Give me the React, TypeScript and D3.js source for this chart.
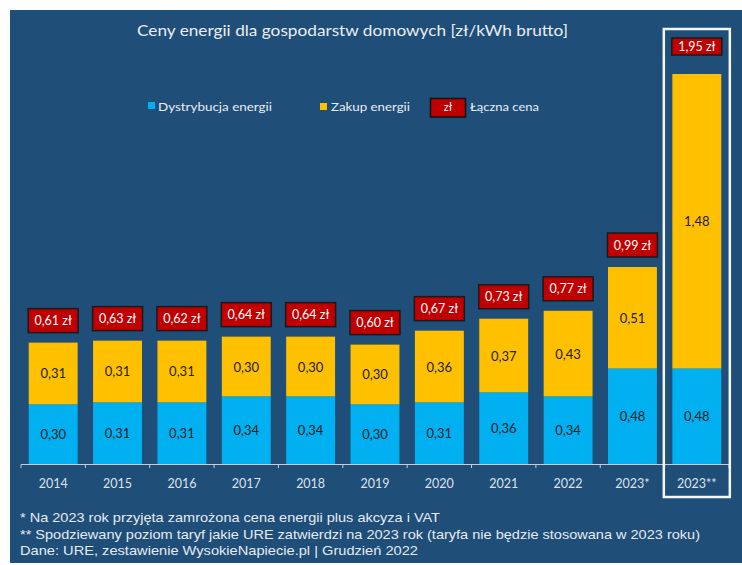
import React from 'react';
import * as d3 from 'd3';

const categories = ['2014', '2015', '2016', '2017', '2018', '2019', '2020', '2021', '2022', '2023*', '2023**'];
const distribution = [0.30, 0.31, 0.31, 0.34, 0.34, 0.30, 0.31, 0.36, 0.34, 0.48, 0.48];
const purchase = [0.31, 0.31, 0.31, 0.30, 0.30, 0.30, 0.36, 0.37, 0.43, 0.51, 1.48];
const totals = [0.61, 0.63, 0.62, 0.64, 0.64, 0.60, 0.67, 0.73, 0.77, 0.99, 1.95];
const seriesNames = ['Dystrybucja energii', 'Zakup energii', 'Łączna cena'];
const titleText = 'Ceny energii dla gospodarstw domowych [zł/kWh brutto]';
const footnotes = [
  '* Na 2023 rok przyjęta zamrożona cena energii plus akcyza i VAT',
  '** Spodziewany poziom taryf jakie URE zatwierdzi na 2023 rok (taryfa nie będzie stosowana w 2023 roku)',
  'Dane: URE, zestawienie WysokieNapiecie.pl  | Grudzień 2022',
];
const footnoteWidths = [420, 680, 398];

const W = 742;
const H = 565;
const BG = '#1F4E79';
const BLUE = '#00B0F0';
const YELLOW = '#FFC000';
const RED = '#C00000';
const FONT = 'Lato, "Open Sans", sans-serif';
const FOOT_FONT = '"Liberation Sans", Arial, sans-serif';

const fmt = (v: number) => v.toFixed(2).replace('.', ',');

export default function App() {
  const rows = categories.map((c, i) => ({ cat: c, dist: distribution[i], buy: purchase[i], total: totals[i] }));
  const stack = d3.stack<any>().keys(['dist', 'buy'])(rows);

  const x = d3.scaleBand<string>().domain(categories).range([21, 729]).paddingInner(0.24).paddingOuter(0.12);
  const y = d3.scaleLinear().domain([0, 1.95]).range([464, 76]);
  const bw = x.bandwidth();
  const step = x.step();
  const x0 = x.range()[0];
  const colors = [BLUE, YELLOW];
  const last = categories.length - 1;
  const hlCx = (x(categories[last]) as number) + bw / 2;

  return (
    <svg width={W} height={H} style={{ position: 'absolute', left: 0, top: 0 }}>
      <rect x={10} y={10} width={W - 10} height={H - 12} fill={BG} />
      <text x={137} y={36} fill="#e9edf3" fontFamily={FONT} fontSize={16} textLength={431} lengthAdjust="spacingAndGlyphs">
        {titleText}
      </text>

      {/* legend */}
      <rect x={148} y={102} width={7} height={7} fill={BLUE} />
      <text x={158} y={110.5} fill="#e9edf3" fontFamily={FONT} fontSize={12} textLength={114} lengthAdjust="spacingAndGlyphs">{seriesNames[0]}</text>
      <rect x={320} y={103} width={7} height={7} fill={YELLOW} />
      <text x={331} y={110.5} fill="#e9edf3" fontFamily={FONT} fontSize={12} textLength={79} lengthAdjust="spacingAndGlyphs">{seriesNames[1]}</text>
      <rect x={430.5} y={98.5} width={35} height={18.5} fill={RED} stroke="#111" strokeWidth={1.5} />
      <text x={448} y={111} fill="#fff" fontFamily={FONT} fontSize={11} textAnchor="middle">zł</text>
      <text x={470} y={110.5} fill="#e9edf3" fontFamily={FONT} fontSize={12} textLength={69} lengthAdjust="spacingAndGlyphs">{seriesNames[2]}</text>

      {/* bars */}
      {stack.map((s, si) => (
        <g key={s.key}>
          {s.map((d, i) => {
            const bx = x(categories[i]) as number;
            const top = y(d[1]);
            const bot = y(d[0]);
            const v = si === 0 ? distribution[i] : purchase[i];
            return (
              <g key={i}>
                <rect x={bx} y={top} width={bw} height={bot - top} fill={colors[si]} />
                <text x={bx + bw / 2} y={(top + bot) / 2 + 5} textAnchor="middle" fill="#1c1c1c" fontFamily={FONT} fontSize={13}>
                  {fmt(v)}
                </text>
              </g>
            );
          })}
        </g>
      ))}

      {/* total labels */}
      {rows.map((r, i) => {
        const topVal = stack[1][i][1];
        const cx = (x(r.cat) as number) + bw / 2;
        const isHl = i === last;
        const h = isHl ? 17 : 24;
        const gap = isHl ? 19 : 10;
        const bottom = y(topVal) - gap;
        const w = 50;
        return (
          <g key={'t' + i}>
            <rect x={cx - w / 2} y={bottom - h} width={w} height={h} fill={RED} stroke="#1a1a1a" strokeWidth={1.5} />
            <text x={cx} y={bottom - h / 2 + 4.5} textAnchor="middle" fill="#fff" fontFamily={FONT} fontSize={12.5}>
              {fmt(r.total) + ' zł'}
            </text>
          </g>
        );
      })}

      {/* axis */}
      <line x1={x0} x2={x0 + step * categories.length} y1={464.5} y2={464.5} stroke="#c9ced6" strokeWidth={1.2} />
      {d3.range(categories.length + 1).map((i) => (
        <line key={'k' + i} x1={x0 + i * step} x2={x0 + i * step} y1={464.5} y2={468} stroke="#c9ced6" strokeWidth={1} />
      ))}
      {categories.map((c) => (
        <text key={'l' + c} x={(x(c) as number) + bw / 2} y={488} textAnchor="middle" fill="#dde2ea" fontFamily={FONT} fontSize={12.5}>
          {c}
        </text>
      ))}

      {/* highlight box */}
      <rect x={hlCx - 33} y={29} width={66} height={468} fill="none" stroke="#f4f6f9" strokeWidth={2.5} />

      {/* footnotes */}
      {footnotes.map((f, i) => (
        <text key={'f' + i} x={20} y={522 + i * 16.5} fill="#e6ebf2" fontFamily={FOOT_FONT} fontSize={13}
          textLength={footnoteWidths[i]} lengthAdjust="spacingAndGlyphs">
          {f}
        </text>
      ))}
    </svg>
  );
}
